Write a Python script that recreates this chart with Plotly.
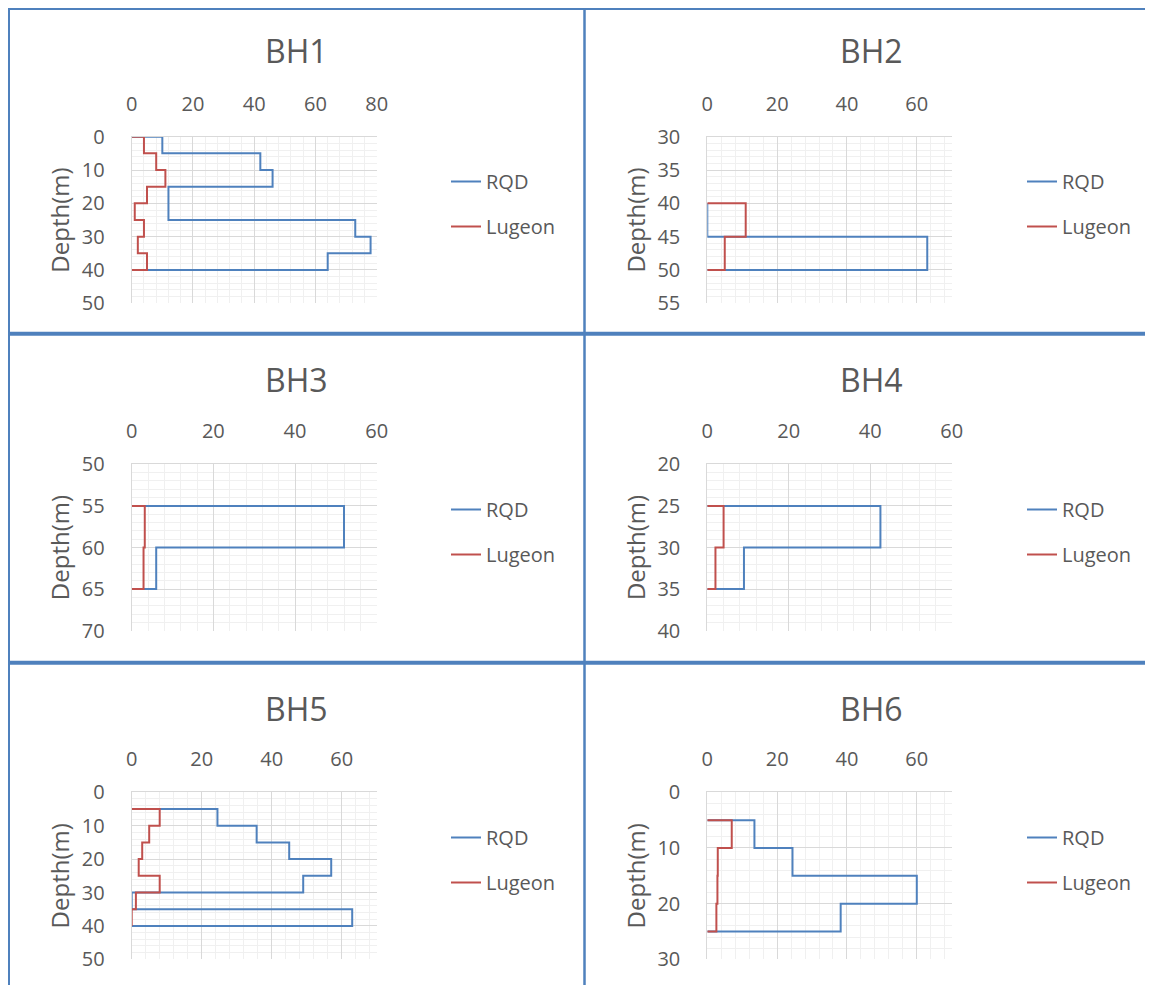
import plotly.graph_objects as go

W, H = 1153, 985
OFF = 8  # page body margin: figure origin sits at screen (8, 8)

# ---------------- data ----------------
names = ["BH1", "BH2", "BH3", "BH4", "BH5", "BH6"]

# depth interval boundaries (m) and values per interval
bh1_depth = [0, 5, 10, 15, 20, 25, 30, 35, 40]
bh1_rqd = [10, 42, 46, 12, 12, 73, 78, 64]
bh1_lugeon = [4, 8, 11, 5, 1, 4, 2, 5]

bh2_depth = [40, 45, 50]
bh2_rqd = [0, 63]
bh2_lugeon = [11, 5]

bh3_depth = [55, 60, 65]
bh3_rqd = [52, 6]
bh3_lugeon = [3.2, 2.9]

bh4_depth = [25, 30, 35]
bh4_rqd = [42.5, 9]
bh4_lugeon = [4, 2]

bh5_depth = [5, 10, 15, 20, 25, 30, 35, 40]
bh5_rqd = [24.5, 35.7, 45, 57, 49, 0, 63]
bh5_lugeon = [8, 5, 3, 2, 8, 1.2, 0]

bh6_depth = [5, 10, 15, 20, 25]
bh6_rqd = [13.5, 24.4, 60, 38.2]
bh6_lugeon = [7, 3, 2.9, 2.6]

x_max = [80, 70, 60, 60, 70, 70]
y_ranges = [(0, 50), (30, 55), (50, 70), (20, 40), (0, 50), (0, 30)]
y_major = [10, 5, 5, 5, 10, 10]
y_minor = [2, 1, 1, 1, 2, 2]
x_major = 20
x_minor = 4

depths = [bh1_depth, bh2_depth, bh3_depth, bh4_depth, bh5_depth, bh6_depth]
rqds = [bh1_rqd, bh2_rqd, bh3_rqd, bh4_rqd, bh5_rqd, bh6_rqd]
lugeons = [bh1_lugeon, bh2_lugeon, bh3_lugeon, bh4_lugeon, bh5_lugeon, bh6_lugeon]

# ---------------- style ----------------
BLUE = "#4F81BD"
RED = "#C0504D"
TXT = "#595959"
FONT = "Open Sans"
GRID_MAJ = "#D9D9D9"
GRID_MIN = "#F0F0F0"
BORDER = "#4F81BD"

# screen-pixel layout (converted to paper below)
cols = [(131.7, 376.7), (707.3, 951.7)]
rows = [(136.7, 303.3), (464.3, 630.7), (792.3, 959.3)]
title_x = [296, 872]
title_y = [50, 380, 708]
legend_x = [446, 1022]
legend_top = [162, 490, 818]


def px(x):
    return (x - OFF) / W


def py(y):
    return 1 - (y - OFF) / H


def step(dep, vals):
    xs, ys = [0], [dep[0]]
    for i, v in enumerate(vals):
        xs += [v, v]
        ys += [dep[i], dep[i + 1]]
    xs.append(0)
    ys.append(dep[-1])
    return xs, ys


fig = go.Figure()
annotations = []
layout_axes = {}

for k, name in enumerate(names):
    r, c = divmod(k, 2)
    idx = k + 1
    xa = "x" if idx == 1 else f"x{idx}"
    ya = "y" if idx == 1 else f"y{idx}"
    lg = "legend" if idx == 1 else f"legend{idx}"
    for sname, vals, color in [("RQD", rqds[k], BLUE), ("Lugeon", lugeons[k], RED)]:
        xs, ys = step(depths[k], vals)
        fig.add_trace(go.Scatter(
            x=xs, y=ys, mode="lines", name=sname,
            line=dict(color=color, width=2),
            xaxis=xa, yaxis=ya, legend=lg,
            legendgroup=f"{sname}{idx}",
        ))
    x0, x1 = cols[c]
    y0, y1 = rows[r]
    xkey = "xaxis" if idx == 1 else f"xaxis{idx}"
    ykey = "yaxis" if idx == 1 else f"yaxis{idx}"
    layout_axes[xkey] = dict(
        domain=[px(x0), px(x1)], anchor=ya, side="top", automargin=False,
        range=[0, x_max[k]], dtick=x_major, tick0=0,
        showgrid=True, gridcolor=GRID_MAJ, gridwidth=1,
        minor=dict(dtick=x_minor, tick0=0, showgrid=True, gridcolor=GRID_MIN, gridwidth=1),
        showline=True, linecolor=GRID_MAJ, linewidth=1,
        zeroline=False, ticks="", ticklabelstandoff=17,
        tickfont=dict(family=FONT, size=20, color=TXT), fixedrange=True,
    )
    layout_axes[ykey] = dict(
        domain=[py(y1), py(y0)], anchor=xa, automargin=False,
        range=[y_ranges[k][1], y_ranges[k][0]], dtick=y_major[k], tick0=0,
        showgrid=True, gridcolor=GRID_MAJ, gridwidth=1,
        minor=dict(dtick=y_minor[k], tick0=0, showgrid=True, gridcolor=GRID_MIN, gridwidth=1),
        showline=True, linecolor=GRID_MAJ, linewidth=1,
        zeroline=False, ticks="", ticklabelstandoff=22,
        tickfont=dict(family=FONT, size=20, color=TXT), fixedrange=True,
        title=dict(text="Depth(m)", font=dict(family=FONT, size=24, color=TXT), standoff=5),
    )
    layout_axes[lg] = dict(
        x=px(legend_x[c]), y=py(legend_top[r]), xanchor="left", yanchor="top",
        font=dict(family=FONT, size=20, color=TXT), bgcolor="rgba(0,0,0,0)",
        traceorder="grouped", tracegroupgap=16,
    )
    annotations.append(dict(
        text=name, x=px(title_x[c]), y=py(title_y[r]), xref="paper", yref="paper",
        xanchor="center", yanchor="middle", showarrow=False,
        font=dict(family=FONT, size=32, color=TXT),
    ))

# chart borders / dividers (screen positions)
shapes = [
    dict(type="line", xref="paper", yref="paper", x0=px(OFF + 1), x1=px(OFF + 1), y0=1, y1=0,
         line=dict(color=BORDER, width=2)),
    dict(type="line", xref="paper", yref="paper", x0=0, x1=1, y0=py(OFF + 1), y1=py(OFF + 1),
         line=dict(color=BORDER, width=2)),
    dict(type="line", xref="paper", yref="paper", x0=px(584.5), x1=px(584.5), y0=1, y1=0,
         line=dict(color=BORDER, width=2.5)),
    dict(type="line", xref="paper", yref="paper", x0=0, x1=1, y0=py(333.7), y1=py(333.7),
         line=dict(color=BORDER, width=4)),
    dict(type="line", xref="paper", yref="paper", x0=0, x1=1, y0=py(662.7), y1=py(662.7),
         line=dict(color=BORDER, width=4)),
]

fig.update_layout(
    width=W, height=H, margin=dict(l=0, r=0, t=0, b=0, autoexpand=False),
    paper_bgcolor="white", plot_bgcolor="white",
    showlegend=True, annotations=annotations, shapes=shapes,
    font=dict(family=FONT, color=TXT),
    **layout_axes,
)

fig.write_html("out.html")
